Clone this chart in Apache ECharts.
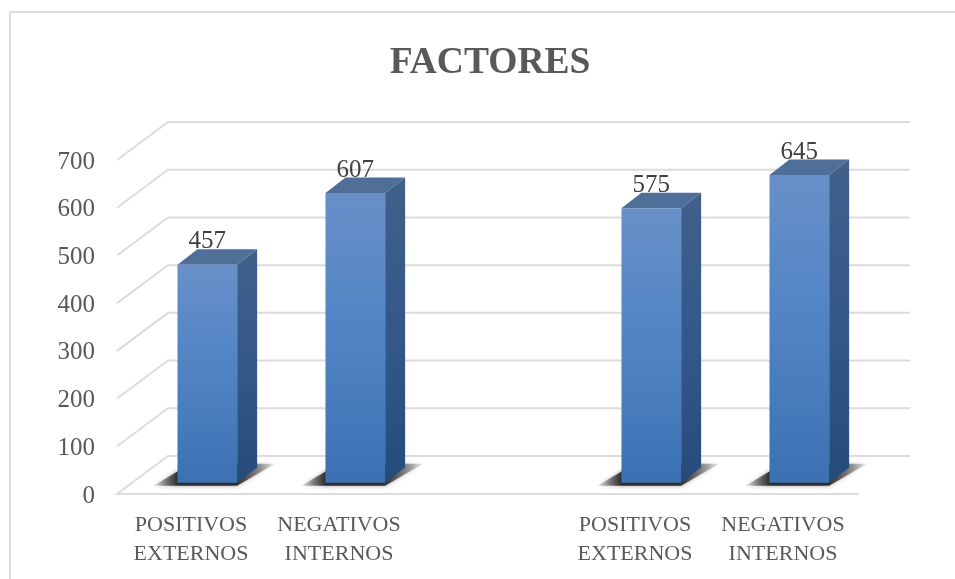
<!DOCTYPE html>
<html>
<head>
<meta charset="utf-8">
<style>html,body{margin:0;padding:0;background:#fff}#c{width:955px;height:579px}</style>
<script src="https://cdn.jsdelivr.net/npm/echarts@6/dist/echarts.min.js"></script>
</head>
<body>
<div id="c"></div>
<script>
var titleText = 'FACTORES';
var categories = ['POSITIVOS\nEXTERNOS', 'NEGATIVOS\nINTERNOS', '', 'POSITIVOS\nEXTERNOS', 'NEGATIVOS\nINTERNOS'];
var values = [457, 607, null, 575, 645];
var yTicks = [0, 100, 200, 300, 400, 500, 600, 700];

var serif = '"Liberation Serif", serif';
var wallDX = 51, wallDY = -38;       // floor depth of the 3D box
var planeDX = 16.3, planeDY = -11.3; // where the bar's front face stands on the floor
var barDX = 20, barDY = -15.5;       // depth of each bar
var overhang = 2;                    // gridlines run slightly past the last category

var barData = [];
values.forEach(function (v, i) { if (v !== null) barData.push([i, v]); });
var wallData = yTicks.map(function (t) { return [0, t]; });

function vGrad(stops) {
  return new echarts.graphic.LinearGradient(0, 0, 0, 1, stops.map(function (s) { return { offset: s[0], color: s[1] }; }));
}

function renderWall(params, api) {
  var v = api.value(1);
  var half = api.size([1, 0])[0] / 2;
  var a = api.coord([0, v]), b = api.coord([4, v]);
  var x0 = a[0] - half, x1 = b[0] + half + overhang, y = a[1];
  var pts = [[x0, y], [x0 + wallDX, y + wallDY], [x1 + wallDX, y + wallDY]];
  if (v === 0) pts = [[x1, y], [x0, y]].concat(pts.slice(1));
  return {
    type: 'group', silent: true,
    children: [
      { type: 'polyline', shape: { points: pts }, style: { fill: null, stroke: '#dcdcdc', lineWidth: 2 } },
      { type: 'text', style: { text: String(v), x: x0 - 22, y: y + 2, align: 'right', verticalAlign: 'middle',
                               font: '25px ' + serif, fill: '#595959' } }
    ]
  };
}

function renderBar(params, api) {
  var cat = api.value(0), v = api.value(1);
  var top = api.coord([cat, v]), base = api.coord([cat, 0]);
  var w = api.size([1, 0])[0] * 0.403;
  var x0 = top[0] + planeDX - w / 2, x1 = x0 + w;
  var yT = top[1] + planeDY, yB = base[1] + planeDY;
  return {
    type: 'group',
    children: [
      { type: 'polygon',
        shape: { points: [[x0 - 24, yB + 3], [x1, yB + 3], [x1 + 38, yB - 19], [x0 + 13, yB - 19]] },
        style: {
          fill: new echarts.graphic.LinearGradient(0, 0, 1, 0, [
            { offset: 0, color: 'rgba(50,50,50,0.1)' },
            { offset: 0.2, color: 'rgba(40,40,40,0.95)' },
            { offset: 0.68, color: 'rgba(40,40,40,0.95)' },
            { offset: 1, color: 'rgba(50,50,50,0.1)' }
          ]),
          shadowBlur: 5, shadowColor: 'rgba(0,0,0,0.4)'
        } },
      { type: 'polygon',
        shape: { points: [[x1, yT], [x1 + barDX, yT + barDY], [x1 + barDX, yB + barDY], [x1, yB]] },
        style: { fill: vGrad([[0, '#41608a'], [0.5, '#34588a'], [1, '#254b7b']]) } },
      { type: 'polygon',
        shape: { points: [[x0, yT], [x0 + barDX, yT + barDY], [x1 + barDX, yT + barDY], [x1, yT]] },
        style: { fill: '#4f6e98' } },
      { type: 'rect',
        shape: { x: x0, y: yT, width: w, height: yB - yT },
        style: { fill: vGrad([[0, '#6890c8'], [0.5, '#4f83c4'], [1, '#3b71b3']]) } },
      { type: 'text',
        style: { text: String(v), x: (x0 + x1) / 2, y: yT - 23, align: 'center', verticalAlign: 'middle',
                 font: '25px ' + serif, fill: '#404040' } }
    ]
  };
}

var chart = echarts.init(document.getElementById('c'), null, { renderer: 'canvas' });
chart.setOption({
  animation: false,
  backgroundColor: '#ffffff',
  title: {
    text: titleText, left: 485, top: 39, textAlign: 'center', textVerticalAlign: 'top',
    textStyle: { fontFamily: serif, fontSize: 37.5, fontWeight: 'bold', color: '#595959' }
  },
  graphic: [{
    type: 'rect', z: -10, silent: true,
    shape: { x: 10, y: 12, width: 1000, height: 700 },
    style: { fill: null, stroke: '#dcdcdc', lineWidth: 2 }
  }],
  grid: { left: 117, top: 160, width: 740, height: 334 },
  xAxis: {
    type: 'category', data: categories,
    axisTick: { show: false },
    axisLine: { show: false },
    axisLabel: { interval: 0, margin: 17, fontFamily: serif, fontSize: 22, lineHeight: 29, color: '#595959' },
    splitLine: { show: false }
  },
  yAxis: {
    type: 'value', min: 0, max: 700, interval: 100,
    axisLine: { show: false }, axisTick: { show: false }, splitLine: { show: false },
    axisLabel: { show: false }
  },
  series: [
    { type: 'custom', name: 'wall', data: wallData, encode: { x: 0, y: 1 }, renderItem: renderWall, clip: false, silent: true, z: 1 },
    { type: 'custom', name: 'FACTORES', data: barData, encode: { x: 0, y: 1 }, renderItem: renderBar, clip: false, z: 2 }
  ]
});
</script>
</body>
</html>
